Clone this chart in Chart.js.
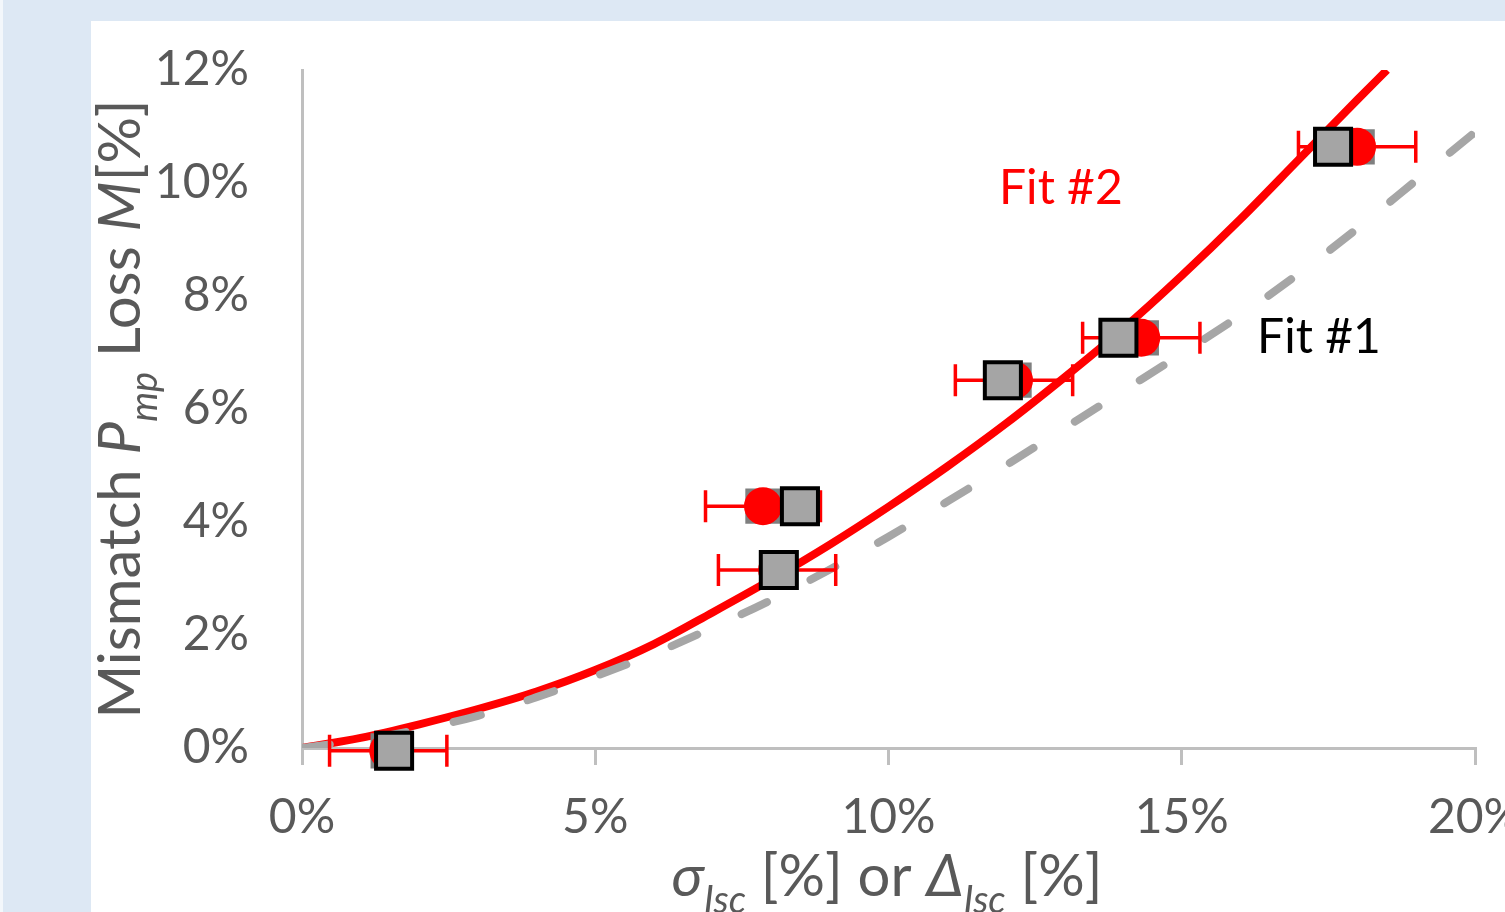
<!DOCTYPE html>
<html>
<head>
<meta charset="utf-8">
<script src="https://cdn.jsdelivr.net/npm/chart.js@4.4.1/dist/chart.umd.min.js"></script>
<style>
	html, body { margin: 0; padding: 0; background: #fff; }
	#wrap { position: relative; width: 1505px; height: 912px; }
</style>
</head>
<body>
<div id="wrap"><canvas id="mismatchChart"></canvas></div>
<script>
// fit curves (x in %, loss in %)
const fit2X = [0, 1, 2, 3, 4, 5, 6, 7, 8, 9, 10, 11, 12, 13, 14, 15, 16, 17, 18, 18.5];
const fit2Y = [0, 0.18, 0.42, 0.69, 1.0, 1.38, 1.84, 2.4, 2.98, 3.6, 4.27, 4.98, 5.74, 6.56, 7.42, 8.36, 9.36, 10.42, 11.48, 12.0];
const fit1X = [0, 1, 2, 3, 4, 5, 6, 7, 8, 9, 10, 11, 12, 13, 14, 15, 16, 17, 18, 19, 20];
const fit1Y = [0, 0.14, 0.33, 0.57, 0.9, 1.27, 1.67, 2.13, 2.62, 3.16, 3.74, 4.36, 5.0, 5.66, 6.32, 6.98, 7.66, 8.4, 9.2, 10.05, 10.9];

// measured points
const sigmaX = [1.47, 7.86, 8.1, 12.14, 14.31, 17.99];
const sigmaErr = [1.0, 0.98, 1.0, 1.0, 1.0, 1.0];
const deltaX = [1.57, 8.49, 8.13, 11.95, 13.92, 17.58];
const lossY = [-0.05, 4.28, 3.15, 6.51, 7.26, 10.64];

// axis ticks
const xTicks = [0, 5, 10, 15, 20];
const yTicks = [0, 2, 4, 6, 8, 10, 12];

// text labels on the plot
const fitLabels = ["Fit #2", "Fit #1"];
const fitLabelX = [12.94, 17.34];
const fitLabelY = [9.91, 7.26];
const fitLabelColors = ["#ff0000", "#000000"];

const FONT = "Lato";
const TEXT_GREY = "#595959";
const AXIS_GREY = "#bfbfbf";

const toPoints = (xs, ys) => xs.map((x, i) => ({ x: x, y: ys[i] }));

const yTitleParts = [
	["Mismatch ", false, false],
	["P", true, false],
	["mp", true, true],
	[" Loss ", false, false],
	["M", true, false],
	["[%]", false, false],
];
const xTitleParts = [
	["\u03C3", true, false],
	["Isc", true, true],
	[" [%] or ", false, false],
	["\u0394", true, false],
	["Isc", true, true],
	[" [%]", false, false],
];

function partFont(part, size) {
	const s = part[2] ? Math.round(size * 0.66) : size;
	return (part[1] ? "italic " : "") + s + "px " + FONT;
}

function richWidth(ctx, parts, size) {
	let w = 0;
	parts.forEach((p) => {
		ctx.font = partFont(p, size);
		w += ctx.measureText(p[0]).width;
	});
	return w;
}

function drawRich(ctx, parts, x, y, size) {
	let cx = x;
	parts.forEach((p) => {
		ctx.font = partFont(p, size);
		ctx.fillText(p[0], cx, p[2] ? y + size * 0.3 : y);
		cx += ctx.measureText(p[0]).width;
	});
}

const backgroundPlugin = {
	id: "panelBackground",
	beforeDraw(chart) {
		const c = chart.ctx;
		c.save();
		c.fillStyle = "#dde8f4";
		c.fillRect(0, 0, chart.width, chart.height);
		c.fillStyle = "#f3f7fb";
		c.fillRect(0, 0, 3, chart.height);
		c.fillStyle = "#ffffff";
		c.fillRect(91, 21, chart.width - 91, chart.height - 21);
		c.restore();
	},
};

const errorBarPlugin = {
	id: "errorBars",
	beforeDatasetDraw(chart, args) {
		if (args.index !== 2) return;
		const c = chart.ctx;
		const xs = chart.scales.x;
		const ys = chart.scales.y;
		c.save();
		c.strokeStyle = "#ff0000";
		c.lineWidth = 3.5;
		sigmaX.forEach((x, i) => {
			const x1 = xs.getPixelForValue(x - sigmaErr[i]);
			const x2 = xs.getPixelForValue(x + sigmaErr[i]);
			const y = ys.getPixelForValue(lossY[i]);
			c.beginPath();
			c.moveTo(x1, y);
			c.lineTo(x2, y);
			c.moveTo(x1, y - 16);
			c.lineTo(x1, y + 16);
			c.moveTo(x2, y - 16);
			c.lineTo(x2, y + 16);
			c.stroke();
		});
		c.restore();
	},
};

const textPlugin = {
	id: "axisText",
	afterDraw(chart) {
		const c = chart.ctx;
		const xs = chart.scales.x;
		const ys = chart.scales.y;
		c.save();
		c.fillStyle = TEXT_GREY;
		c.textBaseline = "alphabetic";
		c.textAlign = "left";

		// vertical title
		const ySize = 58;
		const yw = richWidth(c, yTitleParts, ySize);
		c.save();
		c.translate(140, 409);
		c.rotate(-Math.PI / 2);
		drawRich(c, yTitleParts, -yw / 2, 0, ySize);
		c.restore();

		// horizontal title
		const xSize = 58;
		const xw = richWidth(c, xTitleParts, xSize);
		drawRich(c, xTitleParts, 887 - xw / 2, 896, xSize);

		// fit labels
		c.textAlign = "center";
		c.textBaseline = "middle";
		c.font = "48px " + FONT;
		fitLabels.forEach((t, i) => {
			c.fillStyle = fitLabelColors[i];
			c.fillText(t, xs.getPixelForValue(fitLabelX[i]), ys.getPixelForValue(fitLabelY[i]));
		});
		c.restore();
	},
};

const ctx = document.getElementById("mismatchChart").getContext("2d");
new Chart(ctx, {
	type: "scatter",
	data: {
		datasets: [
			{
				label: "Delta Isc",
				data: toPoints(deltaX, lossY),
				pointStyle: "rect",
				pointRadius: 25.5,
				backgroundColor: "#a5a5a5",
				borderColor: "#000000",
				borderWidth: 4,
				order: 0,
				clip: false,
			},
			{
				label: "Sigma Isc",
				data: toPoints(sigmaX, lossY),
				pointStyle: "circle",
				pointRadius: 19,
				backgroundColor: "#ff0000",
				borderWidth: 0,
				order: 1,
				clip: false,
			},
			{
				label: "Sigma shade",
				data: toPoints(sigmaX, lossY),
				pointStyle: "rect",
				pointRadius: 25,
				backgroundColor: "#7f7f7f",
				borderWidth: 0,
				order: 2,
				clip: false,
			},
			{
				label: "Fit #1",
				data: toPoints(fit1X, fit1Y),
				showLine: true,
				borderColor: "#a6a6a6",
				borderWidth: 8,
				borderDash: [28, 49],
				borderCapStyle: "round",
				cubicInterpolationMode: "monotone",
				pointRadius: 0,
				order: 3,
			},
			{
				label: "Fit #2",
				data: toPoints(fit2X, fit2Y),
				showLine: true,
				borderColor: "#ff0000",
				borderWidth: 8,
				cubicInterpolationMode: "monotone",
				pointRadius: 0,
				order: 4,
			},
		],
	},
	options: {
		responsive: true,
		maintainAspectRatio: false,
		animation: false,
		layout: { padding: { left: 0, right: 30, top: 70, bottom: 0 } },
		plugins: {
			legend: { display: false },
			tooltip: { enabled: false },
		},
		scales: {
			x: {
				type: "linear",
				min: xTicks[0],
				max: xTicks[xTicks.length - 1],
				afterBuildTicks: (scale) => {
					scale.ticks = xTicks.map((v) => ({ value: v }));
				},
				ticks: {
					color: TEXT_GREY,
					font: { family: FONT, size: 48 },
					padding: 24,
					maxRotation: 0,
					callback: (v) => v + "%",
				},
				grid: {
					display: true,
					drawOnChartArea: false,
					drawTicks: true,
					tickLength: 17,
					color: AXIS_GREY,
					lineWidth: 3,
				},
				border: { display: true, color: AXIS_GREY, width: 3 },
				afterFit: (scale) => {
					scale.height = 164;
					scale.paddingLeft = 0;
					scale.paddingRight = 0;
				},
			},
			y: {
				type: "linear",
				min: yTicks[0],
				max: yTicks[yTicks.length - 1],
				afterBuildTicks: (scale) => {
					scale.ticks = yTicks.map((v) => ({ value: v }));
				},
				ticks: {
					color: TEXT_GREY,
					font: { family: FONT, size: 48 },
					padding: 53,
					callback: (v) => v + "%",
				},
				grid: { display: false, drawTicks: false },
				border: { display: true, color: AXIS_GREY, width: 3 },
				afterFit: (scale) => {
					scale.width = 302;
					scale.paddingTop = 0;
					scale.paddingBottom = 0;
				},
			},
		},
	},
	plugins: [backgroundPlugin, errorBarPlugin, textPlugin],
});
</script>
</body>
</html>
